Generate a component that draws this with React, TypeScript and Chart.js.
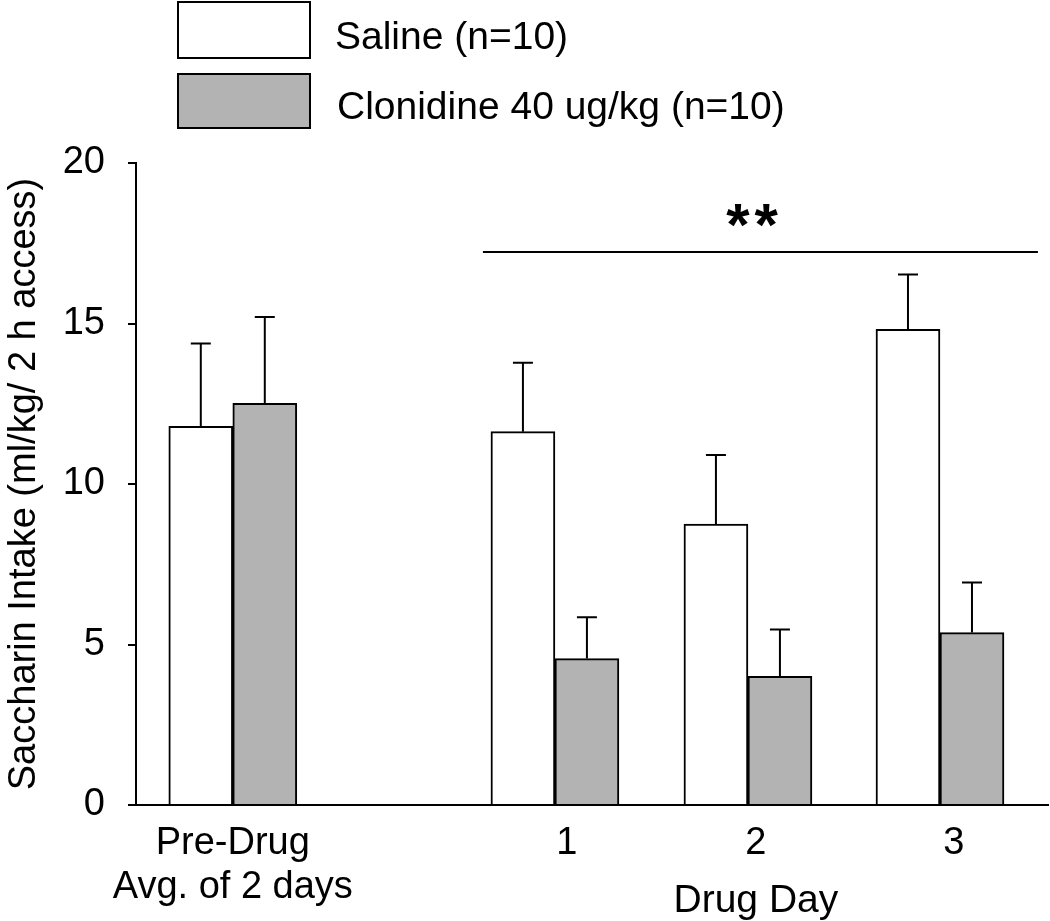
import React, { useEffect, useRef } from "react";
import { Chart, registerables } from "chart.js";

Chart.register(...registerables);

// ---- data ----
const categories: string[][] = [["Pre-Drug", "Avg. of 2 days"], ["1"], ["2"], ["3"]];
const groupX = [0, 1.664, 2.661, 3.653];
const labelX = [0, 1.726, 2.702, 3.725];
const salineMean = [11.8, 11.63, 8.75, 14.82];
const salineSem = [2.58, 2.15, 2.15, 1.71];
const clonMean = [12.51, 4.56, 4.01, 5.37];
const clonSem = [2.69, 1.29, 1.46, 1.56];
const seriesLabels = ["Saline (n=10)", "Clonidine 40 ug/kg (n=10)"];
const yTicks = [0, 5, 10, 15, 20];
const sigRange = [1.292, 4.159];
const sigValue = 17.23;
const sigText = "**";
const sigStarsX = 2.68;
const xTitle = "Drug Day";
const yTitle = "Saccharin Intake (ml/kg/ 2 h access)";

const FONT = "'Liberation Sans', Arial, Helvetica, sans-serif";
const GREY = "#b3b3b3";

const overlay = {
  id: "overlay",
  afterDatasetsDraw(chart: any) {
    const { ctx } = chart;
    const x = chart.scales.x;
    const y = chart.scales.y;
    ctx.save();
    ctx.strokeStyle = "#000";
    ctx.lineWidth = 2;
    const sems = [salineSem, clonSem];
    const means = [salineMean, clonMean];
    chart.data.datasets.forEach((_ds: any, di: number) => {
      const meta = chart.getDatasetMeta(di);
      meta.data.forEach((bar: any, i: number) => {
        const top = y.getPixelForValue(means[di][i] + sems[di][i]);
        ctx.beginPath();
        ctx.moveTo(bar.x, bar.y);
        ctx.lineTo(bar.x, top);
        ctx.moveTo(bar.x - 10, top);
        ctx.lineTo(bar.x + 10, top);
        ctx.stroke();
      });
    });
    // significance line
    const ly = y.getPixelForValue(sigValue);
    ctx.beginPath();
    ctx.moveTo(x.getPixelForValue(sigRange[0]), ly);
    ctx.lineTo(x.getPixelForValue(sigRange[1]), ly);
    ctx.stroke();
    ctx.fillStyle = "#000";
    ctx.font = `bold 60px ${FONT}`;
    try {
      (ctx as any).letterSpacing = "5px";
    } catch (e) {}
    ctx.textAlign = "center";
    ctx.textBaseline = "alphabetic";
    ctx.fillText(sigText, x.getPixelForValue(sigStarsX) + 3, ly - 7);
    try {
      (ctx as any).letterSpacing = "0px";
    } catch (e) {}
    ctx.restore();
  },
  afterDraw(chart: any) {
    const { ctx } = chart;
    const x = chart.scales.x;
    ctx.save();
    ctx.fillStyle = "#000";
    ctx.font = `39px ${FONT}`;
    ctx.textAlign = "center";
    ctx.textBaseline = "alphabetic";
    ctx.fillText(xTitle, x.getPixelForValue(labelX[2]), 912);
    // legend
    const boxes = [
      { y: 2, h: 56, ty: 38 },
      { y: 74, h: 54, ty: 108 },
    ];
    chart.data.datasets.forEach((ds: any, i: number) => {
      const b = boxes[i];
      ctx.fillStyle = ds.backgroundColor;
      ctx.fillRect(178, b.y, 132, b.h);
      ctx.strokeStyle = "#000";
      ctx.lineWidth = 2;
      ctx.strokeRect(178, b.y, 132, b.h);
      ctx.fillStyle = "#000";
      ctx.textAlign = "left";
      ctx.textBaseline = "middle";
      ctx.fillText(ds.label, i === 0 ? 335 : 337, b.ty);
    });
    ctx.restore();
  },
};

export default function App() {
  const ref = useRef<HTMLCanvasElement | null>(null);
  useEffect(() => {
    if (!ref.current) return;
    const chart = new Chart(ref.current, {
      type: "bar",
      data: {
        datasets: [
          {
            label: seriesLabels[0],
            data: groupX.map((gx, i) => ({ x: gx, y: salineMean[i] })),
            backgroundColor: "#ffffff",
            borderColor: "#000",
            borderWidth: 2,
            barThickness: 64,
          },
          {
            label: seriesLabels[1],
            data: groupX.map((gx, i) => ({ x: gx, y: clonMean[i] })),
            backgroundColor: GREY,
            borderColor: "#000",
            borderWidth: 2,
            barThickness: 64,
          },
        ],
      } as any,
      options: {
        responsive: false,
        animation: false,
        devicePixelRatio: 1,
        layout: { padding: { top: 163, right: 2, left: 0, bottom: 0 } },
        font: { family: FONT },
        plugins: { legend: { display: false }, tooltip: { enabled: false } },
        scales: {
          x: {
            type: "linear",
            min: -0.5,
            max: 4.211,
            offset: false,
            grid: { display: false, offset: false },
            border: { display: true, color: "#000", width: 2 },
            ticks: {
              autoSkip: false,
              maxRotation: 0,
              minRotation: 0,
              padding: 8,
              color: "#000",
              font: { family: FONT, size: 38, lineHeight: 1.16 },
              callback: (_v: any, i: number) => categories[i],
            },
            afterBuildTicks: (s: any) => {
              s.ticks = labelX.map((v) => ({ value: v }));
            },
            afterFit: (s: any) => {
              s.height = 116;
            },
          },
          y: {
            min: 0,
            max: 20,
            grid: {
              drawOnChartArea: false,
              drawTicks: true,
              tickLength: 8,
              color: "#000",
              lineWidth: 2,
            },
            border: { display: true, color: "#000", width: 2 },
            ticks: {
              padding: 23,
              color: "#000",
              font: { family: FONT, size: 38 },
            },
            afterBuildTicks: (s: any) => {
              s.ticks = yTicks.map((v) => ({ value: v }));
            },
            title: {
              display: true,
              text: yTitle,
              color: "#000",
              font: { family: FONT, size: 38 },
              padding: { top: 2, bottom: 0 },
            },
            afterFit: (s: any) => {
              s.width = 136;
            },
          },
        },
      } as any,
      plugins: [overlay],
    });
    return () => chart.destroy();
  }, []);
  return (
    <div style={{ position: "absolute", left: 0, top: 0, width: 1050, height: 921, background: "#fff" }}>
      <canvas ref={ref} width={1050} height={921} />
    </div>
  );
}
